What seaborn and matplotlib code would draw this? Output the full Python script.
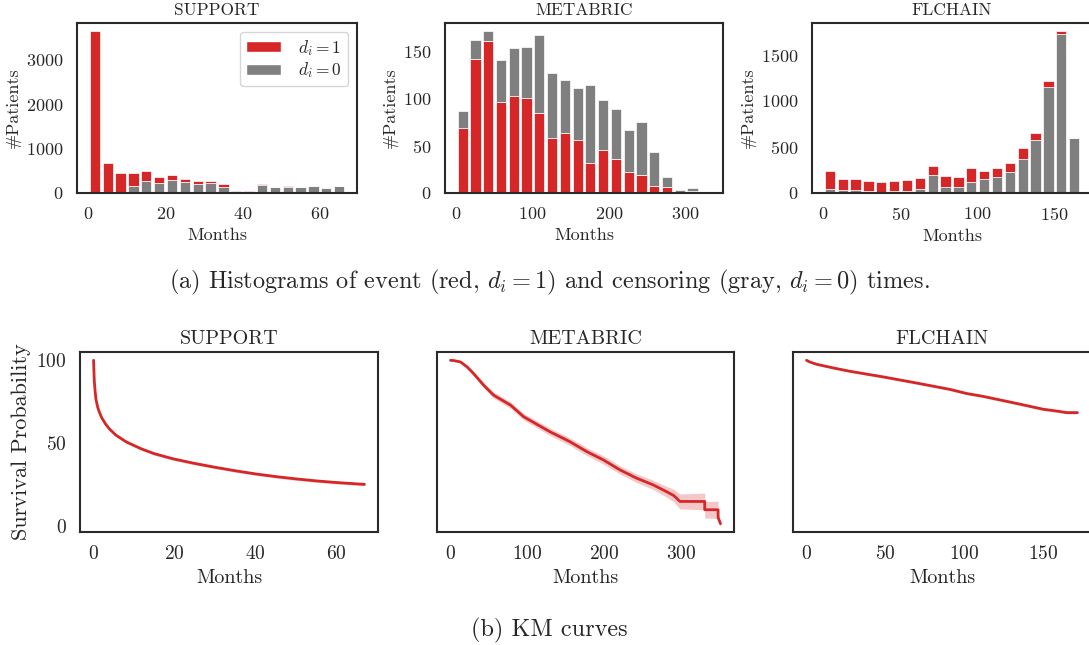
import numpy as np
import pandas as pd
import matplotlib
matplotlib.use("Agg")
import matplotlib.pyplot as plt
from matplotlib.patches import Patch
import seaborn as sns

# ---------------- data ----------------
lbl_event = r"$d_i = 1$"
lbl_cens = r"$d_i = 0$"

# histogram bins (months): range and count
support_range = (0, 66.7)
support_events = [3645, 680, 440, 300, 210, 144, 120, 85, 76, 44, 67, 40, 52, 30, 15, 12, 0, 0, 0, 0]
support_cens = [0, 0, 0, 150, 280, 226, 295, 240, 204, 226, 143, 0, 0, 170, 130, 135, 128, 150, 105, 165]

metabric_range = (0, 335)
metabric_events = [69, 142, 161, 96, 102, 100, 85, 58, 63, 56, 32, 45, 36, 22, 19, 7, 6, 1, 2, 1]
metabric_cens = [18, 20, 10, 44, 51, 54, 82, 69, 56, 55, 82, 53, 53, 45, 56, 36, 11, 2, 3, 0]

flchain_range = (0, 167)
flchain_events = [200, 124, 124, 117, 109, 109, 117, 120, 105, 120, 116, 153, 95, 102, 98, 120, 77, 65, 36, 0]
flchain_cens = [44, 29, 29, 18, 15, 18, 25, 44, 193, 69, 62, 120, 149, 171, 233, 371, 575, 1147, 1722, 600]

# Kaplan-Meier curves (survival in %)
support_t = [0, 0.1, 0.2, 0.4, 0.6, 1, 1.4, 2, 3, 4, 5.5, 8, 10, 12, 15, 18.7, 20, 25, 30, 35, 40, 45, 50, 55, 60, 65, 67]
support_s = [100, 93, 87, 81, 76.5, 72, 69, 65.5, 61.5, 58.5, 55, 51, 48.7, 46.5, 43.8, 41.3, 40.5, 37.9, 35.6, 33.5, 31.6, 30, 28.6, 27.4, 26.4, 25.6, 25.3]
support_hw = [0, 0.5, 0.7, 0.8, 0.9, 0.9, 0.9, 0.9, 0.9, 0.9, 0.9, 0.9, 0.9, 0.9, 0.9, 0.9, 0.9, 0.9, 0.9, 0.9, 0.9, 0.9, 0.9, 0.9, 0.9, 0.9, 0.9]

metabric_t = [0, 5, 13, 21.6, 30, 43, 56, 78, 95, 129, 155, 177, 198.5, 220, 241.7, 263, 280, 290, 297.8, 330, 330, 347.4, 347.4, 350.5]
metabric_s = [100, 99.8, 99, 96, 92, 85, 79, 73, 66, 57, 51, 45, 40, 34, 29, 25, 21, 18.5, 15, 15, 10, 10, 5.3, 1.6]
metabric_hw = [0, 0.3, 0.6, 1, 1.3, 1.6, 1.8, 2, 2, 2.2, 2.3, 2.4, 2.5, 2.5, 2.6, 2.8, 3.2, 3.8, 4.5, 5, 5, 5.2, 3, 1.5]

flchain_t = [0, 2, 6.4, 17, 27.5, 48.7, 70, 91, 101.7, 112, 133.5, 150.4, 160, 165, 172]
flchain_s = [100, 99, 97.6, 95.4, 93.4, 90, 86.3, 82.5, 80, 78.3, 74, 70.5, 69.3, 68.5, 68.5]
flchain_hw = [0, 0.3, 0.5, 0.6, 0.6, 0.7, 0.7, 0.7, 0.7, 0.7, 0.8, 0.8, 0.8, 0.8, 0.8]

titles = ["SUPPORT", "METABRIC", "FLCHAIN"]
xticks = [[0, 20, 40, 60], [0, 100, 200, 300], [0, 50, 100, 150]]
yticks_hist = [[0, 1000, 2000, 3000], [0, 50, 100, 150], [0, 500, 1000, 1500]]

RED = "#d62728"
GRAY = "#7f7f7f"

# ---------------- style ----------------
sns.set_theme(style="white")
plt.rcParams.update({
    "font.family": ["cmr10", "DejaVu Serif"],
    "mathtext.fontset": "cm",
    "axes.formatter.use_mathtext": True,
    "font.size": 12,
    "axes.titlesize": 12.5,
    "axes.labelsize": 13,
    "xtick.labelsize": 13,
    "ytick.labelsize": 13,
    "legend.fontsize": 12.5,
    "axes.edgecolor": "#2a2a2a",
    "axes.linewidth": 1.5,
    "text.color": "#262626",
    "axes.labelcolor": "#262626",
    "xtick.color": "#262626",
    "ytick.color": "#262626",
})

W, H = 1089, 645
fig = plt.figure(figsize=(W / 100, H / 100), dpi=100)


def rect(l, r, t, b):
    return [l / W, 1 - b / H, (r - l) / W, (b - t) / H]


hist_rects = [rect(77, 357, 23, 193), rect(445, 723, 23, 193), rect(812, 1092, 23, 193)]
km_rects = [rect(80, 378, 352, 532), rect(437, 734, 352, 532), rect(793, 1091, 352, 532)]

hist_data = [
    (support_range, support_events, support_cens, [lbl_event, lbl_cens]),
    (metabric_range, metabric_events, metabric_cens, [lbl_cens, lbl_event]),
    (flchain_range, flchain_events, flchain_cens, [lbl_event, lbl_cens]),
]

for i, (rng, ev, ce, order) in enumerate(hist_data):
    ax = fig.add_axes(hist_rects[i])
    nb = len(ev)
    edges = np.linspace(rng[0], rng[1], nb + 1)
    centers = (edges[:-1] + edges[1:]) / 2
    df = pd.DataFrame({
        "Months": np.concatenate([centers, centers]),
        "n": np.concatenate([ev, ce]).astype(float),
        "status": [lbl_event] * nb + [lbl_cens] * nb,
    })
    sns.histplot(data=df, x="Months", weights="n", hue="status", hue_order=order,
                 bins=nb, binrange=rng, multiple="stack", shrink=0.8, alpha=1,
                 palette={lbl_event: RED, lbl_cens: GRAY},
                 edgecolor="white", linewidth=0.5, ax=ax, legend=False)
    ax.set_title(titles[i])
    ax.set_ylabel("#Patients")
    ax.set_xlabel("Months")
    ax.set_xticks(xticks[i])
    ax.set_yticks(yticks_hist[i])
    for s in ax.spines.values():
        s.set_visible(True)
    if i == 0:
        handles = [Patch(facecolor=RED, edgecolor="white"), Patch(facecolor=GRAY, edgecolor="white")]
        ax.legend(handles, [lbl_event, lbl_cens], loc="upper right", frameon=True,
                  fontsize=12.5, handlelength=2.0, handleheight=0.6,
                  borderpad=0.35, labelspacing=0.15, handletextpad=1.0)

km_data = [
    (support_t, support_s, support_hw),
    (metabric_t, metabric_s, metabric_hw),
    (flchain_t, flchain_s, flchain_hw),
]

for i, (t, s, hw) in enumerate(km_data):
    ax = fig.add_axes(km_rects[i])
    t = np.asarray(t, float)
    s = np.asarray(s, float)
    hw = np.asarray(hw, float)
    ax.fill_between(t, np.clip(s - hw, 0, None), s + hw, color=RED, alpha=0.25, linewidth=0)
    sns.lineplot(x=t, y=s, estimator=None, sort=False, color=RED, linewidth=2, ax=ax)
    ax.set_title(titles[i], fontsize=14.5)
    ax.set_xlabel("Months", fontsize=14.5)
    ax.set_xticks(xticks[i])
    ax.tick_params(labelsize=14)
    ax.set_ylim(-3.4, 105)
    ax.set_yticks([0, 50, 100])
    if i == 0:
        ax.set_ylabel("Survival Probability", fontsize=16)
    else:
        ax.set_yticklabels([])
    for sp in ax.spines.values():
        sp.set_visible(True)

fig.text(549 / W, 1 - 282 / H,
         r"(a) Histograms of event (red, $d_i = 1$) and censoring (gray, $d_i = 0$) times.",
         ha="center", va="center", fontsize=17.5)
fig.text(549 / W, 1 - 630 / H, "(b) KM curves", ha="center", va="center", fontsize=17.5)

fig.savefig("out.png", dpi=100)
